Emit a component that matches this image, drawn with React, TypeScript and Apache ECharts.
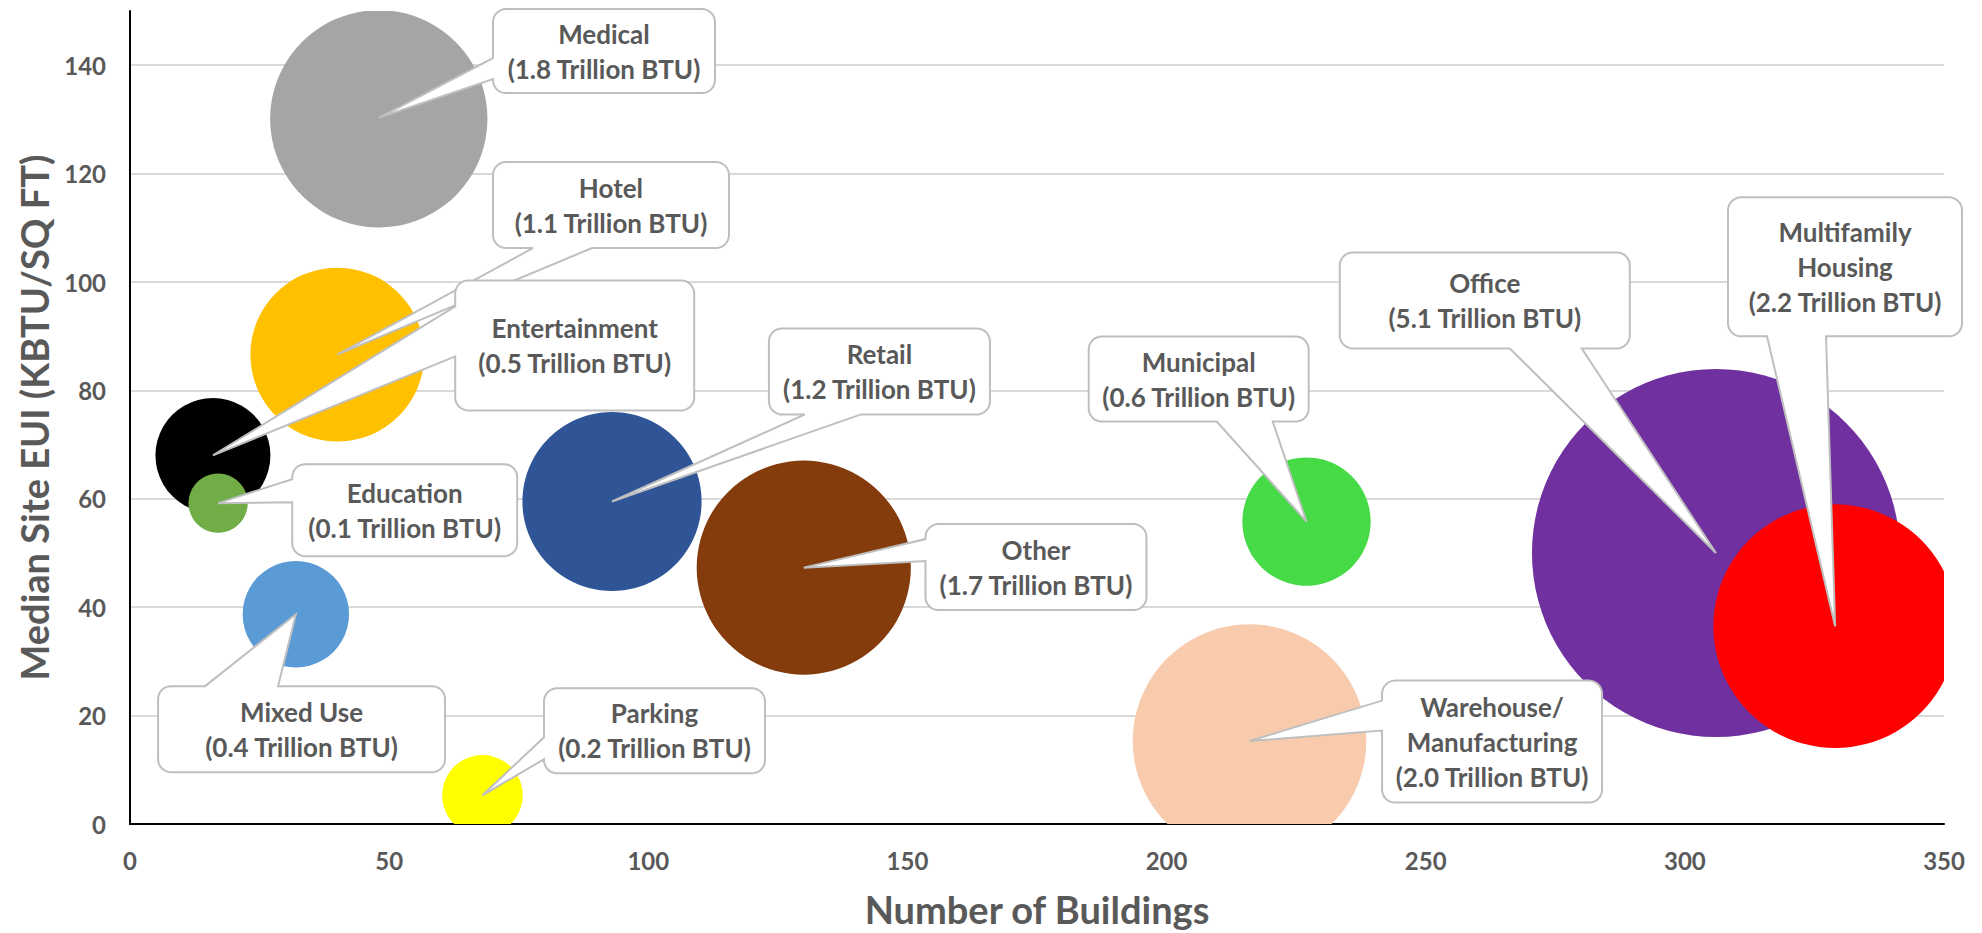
import React, { useEffect, useRef } from "react";
import * as echarts from "echarts";

// ---- data ----
const categories = [
  "Medical",
  "Hotel",
  "Entertainment",
  "Education",
  "Mixed Use",
  "Parking",
  "Retail",
  "Other",
  "Municipal",
  "Warehouse/\nManufacturing",
  "Office",
  "Multifamily\nHousing",
];
const buildings = [48, 40, 16, 17, 32, 68, 93, 130, 227, 216, 306, 329];
const medianEUI = [130.3, 86.6, 68, 59.2, 38.7, 5.3, 59.5, 47.3, 55.8, 15.3, 50.0, 36.5];
const energyLabels = ["1.8", "1.1", "0.5", "0.1", "0.4", "0.2", "1.2", "1.7", "0.6", "2.0", "5.1", "2.2"];
// bubble sizes (Trillion BTU)
const bubbleEnergy = [1.75, 1.12, 0.49, 0.13, 0.42, 0.24, 1.19, 1.7, 0.61, 2.02, 5.02, 2.2];
const xTicks = { min: 0, max: 350, interval: 50 };
const yTicks = { min: 0, max: 150, interval: 20 };

// ---- styles / layout ----
const colors = [
  "#A5A5A5",
  "#FFC000",
  "#000000",
  "#70AD47",
  "#5B9BD5",
  "#FFFF00",
  "#2F5597",
  "#843C0C",
  "#47DA47",
  "#F8CBAD",
  "#7030A0",
  "#FF0000",
];
// callout box centres, in axis units
const calloutX = [91.45, 92.8, 85.8, 53.0, 33.1, 101.2, 144.6, 174.8, 206.2, 262.8, 261.4, 330.9];
const calloutY = [142.6, 114.2, 88.3, 57.9, 17.5, 17.2, 83.5, 47.4, 82.1, 15.2, 96.6, 102.8];
// box sizes in px
const calloutW = [222, 236, 239, 225, 287, 221, 221, 221, 220, 220, 290, 234];
const calloutH = [84, 86, 130, 92, 86, 85, 86, 86, 85, 122, 96, 139];
// pointer base: side + offsets along that side (px from top / left)
const calloutSide = ["left", "bottom", "left", "left", "top", "left", "bottom", "left", "bottom", "left", "bottom", "bottom"];
const calloutO1 = [49, 40, 26, 15, 47, 49, 36, 15, 128, 20, 170, 39];
const calloutO2 = [70, 99, 76, 38, 120, 71, 92, 37, 184, 50, 242, 98];

const R_MAX = 184;
const TEXT = "#595959";
const FONT = "Lato";

function outline(
  l: number,
  t: number,
  w: number,
  h: number,
  r: number,
  side: string,
  o1: number,
  o2: number,
  tip: number[]
) {
  const pts: number[][] = [];
  const arc = (cx: number, cy: number, a0: number, a1: number) => {
    const n = 8;
    for (let k = 0; k <= n; k++) {
      const a = ((a0 + ((a1 - a0) * k) / n) * Math.PI) / 180;
      pts.push([cx + r * Math.cos(a), cy + r * Math.sin(a)]);
    }
  };
  // top side (left -> right)
  if (side === "top") {
    pts.push([l + o1, t], tip, [l + o2, t]);
  }
  arc(l + w - r, t + r, -90, 0);
  if (side === "right") {
    pts.push([l + w, t + o1], tip, [l + w, t + o2]);
  }
  arc(l + w - r, t + h - r, 0, 90);
  if (side === "bottom") {
    pts.push([l + o2, t + h], tip, [l + o1, t + h]);
  }
  arc(l + r, t + h - r, 90, 180);
  if (side === "left") {
    pts.push([l, t + o2], tip, [l, t + o1]);
  }
  arc(l + r, t + r, 180, 270);
  return pts;
}

export default function App() {
  const ref = useRef<HTMLDivElement>(null);

  useEffect(() => {
    document.body.style.margin = "0";
    if (!ref.current) return;
    const chart = echarts.init(ref.current, undefined, { renderer: "svg" });
    const maxE = Math.max(...bubbleEnergy);

    const bubbleData = buildings.map((x, i) => [x, medianEUI[i], bubbleEnergy[i]]);
    const calloutData = buildings.map((x, i) => [x, medianEUI[i]]);

    chart.setOption({
      animation: false,
      backgroundColor: "#ffffff",
      grid: { left: 130, right: 38, top: 11, bottom: 108, containLabel: false },
      xAxis: {
        type: "value",
        min: xTicks.min,
        max: xTicks.max,
        interval: xTicks.interval,
        name: "Number of Buildings",
        nameLocation: "middle",
        nameGap: 66,
        nameTextStyle: { color: TEXT, fontFamily: FONT, fontWeight: "bold", fontSize: 38 },
        axisLine: { show: true, onZero: false, lineStyle: { color: "#000000", width: 2 } },
        axisTick: { show: false },
        splitLine: { show: false },
        axisLabel: { margin: 24, color: TEXT, fontFamily: FONT, fontWeight: "bold", fontSize: 24 },
      },
      yAxis: {
        type: "value",
        min: yTicks.min,
        max: yTicks.max,
        interval: yTicks.interval,
        name: "Median Site EUI (KBTU/SQ FT)",
        nameLocation: "middle",
        nameGap: 76,
        nameRotate: 90,
        nameTextStyle: { color: TEXT, fontFamily: FONT, fontWeight: "bold", fontSize: 38 },
        axisLine: { show: true, onZero: false, lineStyle: { color: "#000000", width: 2 } },
        axisTick: { show: false },
        splitLine: { show: true, showMaxLine: false, showMinLine: false, lineStyle: { color: "#D9D9D9", width: 2 } },
        axisLabel: { showMaxLabel: false, margin: 24, color: TEXT, fontFamily: FONT, fontWeight: "bold", fontSize: 24 },
      },
      series: [
        {
          type: "custom",
          name: "bubbles",
          clip: true,
          z: 2,
          data: bubbleData,
          renderItem: (params: any, api: any) => {
            const i = params.dataIndex;
            const c = api.coord([api.value(0), api.value(1)]);
            const r = R_MAX * Math.sqrt(api.value(2) / maxE);
            return {
              type: "circle",
              shape: { cx: c[0], cy: c[1], r },
              style: { fill: colors[i] },
            };
          },
        },
        {
          type: "custom",
          name: "callouts",
          clip: false,
          z: 5,
          data: calloutData,
          renderItem: (params: any, api: any) => {
            const i = params.dataIndex;
            const tip = api.coord([api.value(0), api.value(1)]);
            const ctr = api.coord([calloutX[i], calloutY[i]]);
            const w = calloutW[i];
            const h = calloutH[i];
            const l = ctr[0] - w / 2;
            const t = ctr[1] - h / 2;
            const pts = outline(l, t, w, h, 13, calloutSide[i], calloutO1[i], calloutO2[i], tip);
            const text = categories[i] + "\n(" + energyLabels[i] + " Trillion BTU)";
            return {
              type: "group",
              children: [
                {
                  type: "polygon",
                  shape: { points: pts },
                  style: { fill: "#ffffff", stroke: "#BFBFBF", lineWidth: 2 },
                },
                {
                  type: "text",
                  style: {
                    text,
                    x: ctr[0],
                    y: ctr[1],
                    align: "center",
                    verticalAlign: "middle",
                    fill: TEXT,
                    font: "bold 26px " + FONT,
                    lineHeight: 35,
                  },
                },
              ],
            };
          },
        },
      ],
    });

    return () => {
      chart.dispose();
    };
  }, []);

  return <div ref={ref} style={{ width: 1982, height: 933 }} />;
}
